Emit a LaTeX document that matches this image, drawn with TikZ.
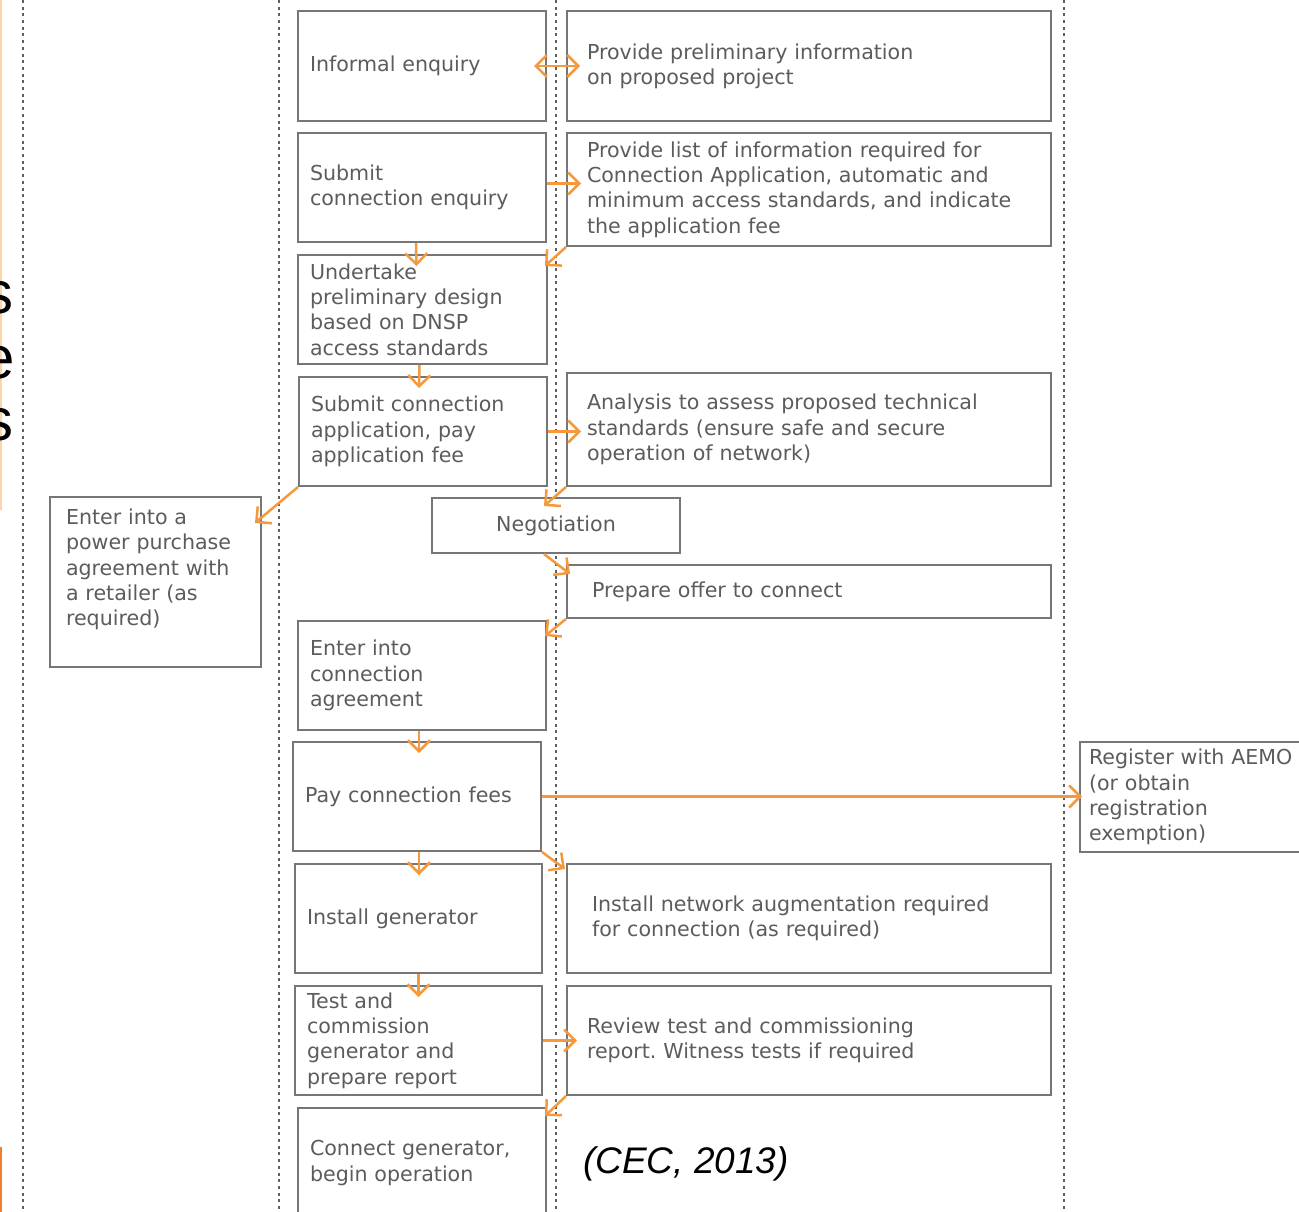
\documentclass[tikz,border=0pt]{standalone}
\usepackage{fontspec}
\setmainfont{DejaVu Sans}
\newfontfamily\capfont{Liberation Sans}
\usetikzlibrary{arrows.meta,calc}
\frenchspacing

\definecolor{boxgray}{RGB}{118,118,118}
\definecolor{txtgray}{RGB}{92,92,92}
\definecolor{lanegray}{RGB}{95,95,95}
\definecolor{floworange}{RGB}{246,152,60}
\definecolor{edgelight}{RGB}{252,214,170}
\definecolor{edgedark}{RGB}{240,128,46}

\tikzset{
    procbox/.style={draw=boxgray, line width=2pt, fill=white, text=txtgray,
        font=\fontsize{20.6}{25.3}\selectfont, align=left, anchor=north west,
        inner ysep=2pt},
    leftbox/.style={procbox, inner xsep=12pt, text width=224pt, minimum height=109pt},
    rightbox/.style={procbox, inner xsep=20pt, text width=444pt, minimum height=110pt},
    barb/.tip={Straight Barb[length=11pt,width=22pt,line width=2.5pt]},
    flow/.style={draw=floworange, line width=2.5pt, -barb},
    lane/.style={draw=lanegray, line width=2.5pt, dash pattern=on 3pt off 3.7pt},
}

\begin{document}
\begin{tikzpicture}[x=1pt,y=-1pt]
    \useasboundingbox (0,0) rectangle (1299,1212);

    % slide edge and cut-off words
    \draw[line width=1.5pt, edgelight] (0.75,0) -- (0.75,510);
    \draw[line width=2pt, edgedark] (0.75,1147) -- (0.75,1212);
    \node[anchor=base east, inner sep=0pt, font=\capfont\fontsize{60}{60}\selectfont] (frag1) at (14,313) {s};
    \node[anchor=base east, inner sep=0pt, font=\capfont\fontsize{60}{60}\selectfont] (frag2) at (15,378) {e};
    \node[anchor=base east, inner sep=0pt, font=\capfont\fontsize{60}{60}\selectfont] (frag3) at (14,440) {s};

    % swim lanes
    \foreach \x in {23,279,556,1064}
        \draw[lane] (\x,0) -- (\x,1212);

    % proponent column
    \node[leftbox, minimum height=110pt] (inf) at (297,10) {Informal enquiry};
    \node[leftbox] (subenq) at (297,132) {Submit\\connection enquiry};
    \node[leftbox, text width=225pt] (design) at (297,254) {Undertake\\preliminary design\\based on DNSP\\access standards};
    \node[leftbox] (subapp) at (298,376) {Submit connection\\application, pay\\application fee};
    \node[leftbox] (agree) at (297,620) {Enter into\\connection\\agreement};
    \node[leftbox] (fees) at (292,741) {Pay connection fees};
    \node[leftbox, text width=223pt] (install) at (294,863) {Install generator};
    \node[leftbox, text width=223pt] (test) at (294,985) {Test and\\commission\\generator and\\prepare report};
    \node[leftbox, minimum height=110pt] (connect) at (297,1107) {Connect generator,\\begin operation};

    % network column
    \node[rightbox] (prelim) at (566,10) {Provide preliminary information\\on proposed project};
    \node[rightbox, minimum height=113pt] (infolist) at (566,132) {Provide list of information required for\\Connection Application, automatic and\\minimum access standards, and indicate\\the application fee};
    \node[rightbox, minimum height=113pt] (analysis) at (566,372) {Analysis to assess proposed technical\\standards (ensure safe and secure\\operation of network)};
    \node[rightbox, inner xsep=25pt, text width=434pt, minimum height=53pt] (offer) at (566,564) {Prepare offer to connect};
    \node[rightbox, inner xsep=25pt, text width=434pt, minimum height=109pt] (augment) at (566,863) {Install network augmentation required\\for connection (as required)};
    \node[rightbox, minimum height=109pt] (review) at (566,985) {Review test and commissioning\\report. Witness tests if required};

    % side boxes
    \node[procbox, align=center, inner xsep=0pt, text width=248pt, minimum height=55pt] (nego) at (431,497) {Negotiation};
    \node[procbox, inner xsep=0pt, text width=211pt, minimum height=170pt] (ppa) at (49,496) {};
    \node[procbox, draw=none, fill=none, inner xsep=0pt, text width=190pt] (ppatext) at ($(ppa.north west)+(16,10)$) {Enter into a\\power purchase\\agreement with\\a retailer (as\\required)};
    \node[procbox, inner xsep=9pt, text width=230pt, minimum height=110pt] (reg) at (1079,741) {Register with AEMO\\(or obtain\\registration\\exemption)};

    % source
    \node[anchor=base west, inner sep=0pt, font=\capfont\itshape\fontsize{37}{37}\selectfont] (source) at (583,1173) {(CEC, 2013)};

    % connectors
    \draw[flow, barb-barb] ($(inf.east)+(-13,0)$) -- ($(prelim.west)+(14,0)$);
    \draw[flow] ($(subenq.east)+(0,-4)$) -- ($(infolist.west |- subenq.east)+(15,-4)$);
    \draw[flow] (infolist.south west) -- ($(design.north east)+(-3,12)$);
    \draw[flow] ($(subenq.south)+(-6,0)$) -- ($(design.north)+(-6,12)$);
    \draw[flow] ($(design.south)+(-3,0)$) -- ($(subapp.north)+(-4,12)$);
    \draw[flow] (subapp.east) -- ($(analysis.west |- subapp.east)+(15,0)$);
    \draw[flow] (subapp.south west) -- ($(ppa.north east)+(-7,27)$);
    \draw[flow] (analysis.south west) -- ($(nego.north)+(-12,9)$);
    \draw[flow] ($(nego.south)+(-12,0)$) -- ($(offer.north west)+(4,10)$);
    \draw[flow] (offer.south west) -- ($(agree.north east)+(-2,16)$);
    \draw[flow] ($(agree.south)+(-3,0)$) -- ($(agree.south |- fees.north)+(-3,12)$);
    \draw[flow] (fees.east) -- ($(reg.west |- fees.east)+(3,0)$);
    \draw[flow] (fees.south east) -- ($(augment.north west)+(-1,6)$);
    \draw[flow] ($(fees.south)+(2,0)$) -- ($(fees.south |- install.north)+(2,12)$);
    \draw[flow] (install.south) -- ($(install.south |- test.north)+(0,12)$);
    \draw[flow] (test.east) -- ($(review.west |- test.east)+(11,0)$);
    \draw[flow] (review.south west) -- ($(connect.north east)+(-2,9)$);
\end{tikzpicture}
\end{document}
